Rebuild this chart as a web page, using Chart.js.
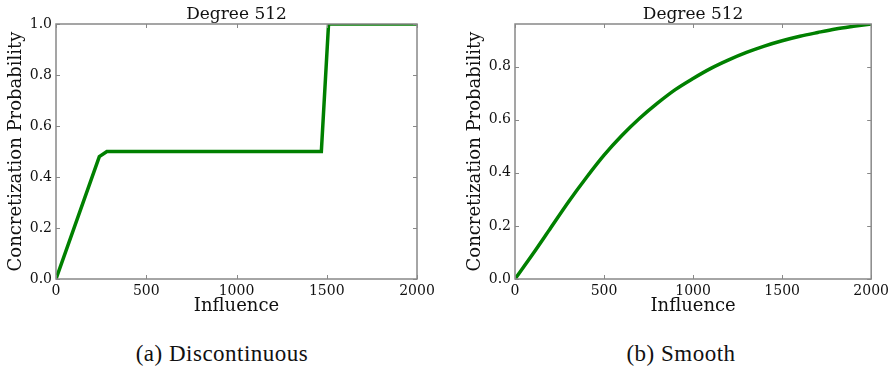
<!DOCTYPE html>
<html>
<head>
<meta charset="utf-8">
<script src="https://cdn.jsdelivr.net/npm/chart.js@4.4.1/dist/chart.umd.min.js"></script>
<style>
  html, body { margin: 0; padding: 0; background: #fff; }
  #fig { position: relative; width: 893px; height: 371px; overflow: hidden; }
  .panel { position: absolute; top: 0; }
  .caption {
    position: absolute; top: 341px; width: 300px; text-align: center;
    font-family: "Liberation Serif", "DejaVu Serif", serif; font-size: 23px; color: #111;
    line-height: 25px; letter-spacing: 0.5px;
  }
</style>
</head>
<body>
<div id="fig">
  <canvas id="chartA" class="panel" width="440" height="330" style="left:0px"></canvas>
  <canvas id="chartB" class="panel" width="447" height="330" style="left:446px"></canvas>
  <div class="caption" style="left:72px">(a) Discontinuous</div>
  <div class="caption" style="left:531px">(b) Smooth</div>
</div>
<script>
// 데이터
const titleText = 'Degree 512';
const xTitle = 'Influence';
const yTitle = 'Concretization Probability';

const discX = [0, 240, 282, 1470, 1510, 2000];
const discY = [0, 0.48, 0.5, 0.5, 1.0, 1.0];

const smoothX = [0, 100, 200, 300, 400, 500, 600, 700, 800, 900, 1000,
                 1100, 1200, 1300, 1400, 1500, 1600, 1700, 1800, 1900, 2000];
const smoothY = [0, 0.094, 0.192, 0.290, 0.381, 0.466, 0.540, 0.605, 0.662, 0.713, 0.755,
                 0.793, 0.825, 0.853, 0.877, 0.897, 0.914, 0.928, 0.941, 0.951, 0.960];

const xTicks = [0, 500, 1000, 1500, 2000];

const serif = '"DejaVu Serif", serif';
const green = '#008000';
const spine = '#888888';

// 테두리 + 안쪽 눈금
const framePlugin = {
    id: 'frame',
    afterDatasetsDraw(chart) {
        const { ctx, chartArea: a, scales } = chart;
        ctx.save();
        ctx.strokeStyle = spine;
        ctx.lineWidth = 1.5;
        ctx.strokeRect(a.left, a.top, a.right - a.left, a.bottom - a.top);
        ctx.lineWidth = 1;
        const len = 4;
        scales.x.ticks.forEach(t => {
            const px = Math.round(scales.x.getPixelForValue(t.value)) + 0.5;
            ctx.beginPath();
            ctx.moveTo(px, a.bottom); ctx.lineTo(px, a.bottom - len);
            ctx.moveTo(px, a.top); ctx.lineTo(px, a.top + len);
            ctx.stroke();
        });
        scales.y.ticks.forEach(t => {
            const py = Math.round(scales.y.getPixelForValue(t.value)) + 0.5;
            ctx.beginPath();
            ctx.moveTo(a.left, py); ctx.lineTo(a.left + len, py);
            ctx.moveTo(a.right, py); ctx.lineTo(a.right - len, py);
            ctx.stroke();
        });
        // 제목
        ctx.fillStyle = '#111';
        ctx.font = '17px ' + serif;
        ctx.textAlign = 'center';
        ctx.textBaseline = 'alphabetic';
        ctx.fillText(titleText, (a.left + a.right) / 2, a.top - 5);
        ctx.restore();
    }
};

function makeChart(id, xs, ys, yMax, padLeft, padRight, smooth) {
    const ctx = document.getElementById(id).getContext('2d');
    return new Chart(ctx, {
        type: 'line',
        data: {
            datasets: [{
                data: xs.map((x, i) => ({ x: x, y: ys[i] })),
                borderColor: green,
                borderWidth: 3.5,
                pointRadius: 0,
                cubicInterpolationMode: smooth ? 'monotone' : 'default',
                tension: 0
            }]
        },
        options: {
            responsive: false,
            animation: false,
            layout: { padding: { left: padLeft, right: padRight, top: 24, bottom: 0 } },
            plugins: { legend: { display: false }, tooltip: { enabled: false } },
            scales: {
                x: {
                    type: 'linear',
                    min: 0, max: 2000,
                    grid: { display: false, drawTicks: false },
                    border: { display: false },
                    afterBuildTicks: s => { s.ticks = xTicks.map(v => ({ value: v })); },
                    afterFit: s => { s.height = 51; },
                    ticks: {
                        padding: 4,
                        maxRotation: 0,
                        color: '#111',
                        font: { family: serif, size: 14 },
                        callback: v => String(v)
                    },
                    title: {
                        display: true, text: xTitle, color: '#111',
                        font: { family: serif, size: 18 },
                        padding: { top: 13, bottom: 13 }
                    }
                },
                y: {
                    min: 0, max: yMax,
                    grid: { display: false, drawTicks: false },
                    border: { display: false },
                    afterFit: s => { s.width = 56; },
                    ticks: {
                        stepSize: 0.2,
                        includeBounds: false,
                        padding: 4,
                        color: '#111',
                        font: { family: serif, size: 14 },
                        callback: v => Number(v).toFixed(1)
                    },
                    title: {
                        display: true, text: yTitle, color: '#111',
                        font: { family: serif, size: 18 },
                        padding: { top: 6, bottom: 6 }
                    }
                }
            }
        },
        plugins: [framePlugin]
    });
}

makeChart('chartA', discX, discY, 1.0, 0, 23, false);
makeChart('chartB', smoothX, smoothY, 0.96, 13, 17, true);
</script>
</body>
</html>
